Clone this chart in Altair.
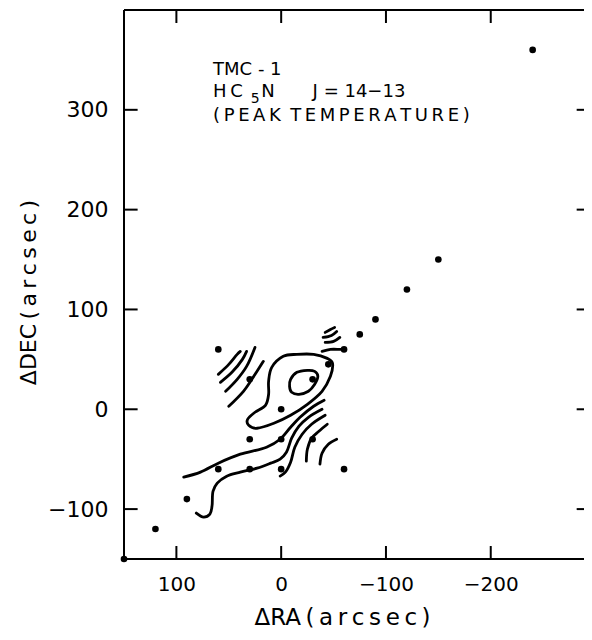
import altair as alt
import pandas as pd

# ---- observed grid points (arcsec offsets) ----
point_ra = [150, 120, 90, 60, 30, 0, -60, 30, 0, -30, 0, 30, -30, 60, -45, -60, -75, -90, -120, -150, -240]
point_dec = [-150, -120, -90, -60, -60, -60, -60, -30, -30, -30, 0, 30, 30, 60, 45, 60, 75, 90, 120, 150, 360]

# ---- closed contours ----
outer_ra = [-15, -31, -44, -49, -47, -39, -25, -9, 7, 23, 31, 32, 25, 15, 12, 12, 9, -2]
outer_dec = [55, 55, 51, 46, 33, 18, 5, -6, -14, -19, -16, -10, -3, 4, 15, 28, 42, 53]
inner_ra = [-9, -15, -25, -32, -35, -32, -26, -17, -10, -8]
inner_dec = [30, 37, 39, 38, 33, 25, 18, 15, 17, 23]

# ---- open contours ----
s1_ra, s1_dec = [60, 50, 42, 39], [35, 45, 55, 58]
s2_ra, s2_dec = [58, 47, 37, 33], [27, 37, 50, 58]
s3_ra, s3_dec = [53, 42, 33, 25], [18, 30, 43, 62]
s4_ra, s4_dec = [50, 36, 28, 17], [3, 18, 30, 48]
u1_ra, u1_dec = [-42, -47, -51], [77, 80, 82]
u2_ra, u2_dec = [-40, -48, -53], [72, 74, 78]
u3_ra, u3_dec = [-42, -50, -56], [67, 68, 72]
u4_ra, u4_dec = [-39, -47, -56, -60], [58, 60, 60, 60]
l1_ra = [93, 77, 60, 39, 14, 1, -9, -18, -31, -41]
l1_dec = [-68, -63, -54, -45, -38, -30, -18, -8, 3, 9]
l2_ra = [81, 74, 68, 66, 65, 61, 52, 39, 23, 10, 1, -5, -10, -17, -26, -39]
l2_dec = [-104, -108, -105, -97, -82, -74, -67, -63, -59, -54, -50, -43, -29, -17, -8, 0]
l3_ra, l3_dec = [1, -4, -9, -13, -20, -29, -42], [-67, -63, -53, -38, -25, -15, -6]
l4_ra, l4_dec = [-24, -25, -29, -36, -44], [-52, -40, -29, -22, -15]
l5_ra, l5_dec = [-37, -39, -45, -53], [-55, -44, -35, -30]

# ---- axes ----
x_ticks = [100, 0, -100, -200]
y_ticks = [-100, 0, 100, 200, 300]
ra_lim = [150, -300]
dec_lim = [-150, 400]
ra_edge = -289

# ---- annotation text ----
ann_text = ["TMC - 1", "H\u2009C", "5", "N", "J = 14\u221213",
            "(\u2009P\u2009E\u2009A\u2009K\u2009 T\u2009E\u2009M\u2009P\u2009E\u2009R\u2009A\u2009T\u2009U\u2009R\u2009E\u2009)"]
ann_ra = [65, 65, 29, 19, -30, 65]
ann_dec = [335, 313, 307, 313, 313, 289]
ann_size = [18, 18, 14, 18, 18, 18]

FONT = "DejaVu Sans"

def build(name, ras, decs):
    return [{"c": name, "o": i, "ra": r, "dec": d} for i, (r, d) in enumerate(zip(ras, decs))]

closed = pd.DataFrame(build("outer", outer_ra, outer_dec) + build("inner", inner_ra, inner_dec))
open_rows = []
for nm, r, d in [("s1", s1_ra, s1_dec), ("s2", s2_ra, s2_dec), ("s3", s3_ra, s3_dec),
                 ("s4", s4_ra, s4_dec), ("u1", u1_ra, u1_dec), ("u2", u2_ra, u2_dec),
                 ("u3", u3_ra, u3_dec), ("u4", u4_ra, u4_dec), ("l1", l1_ra, l1_dec),
                 ("l2", l2_ra, l2_dec), ("l3", l3_ra, l3_dec), ("l4", l4_ra, l4_dec),
                 ("l5", l5_ra, l5_dec)]:
    open_rows += build(nm, r, d)
opened = pd.DataFrame(open_rows)
points = pd.DataFrame({"ra": point_ra, "dec": point_dec})
ann = pd.DataFrame({"t": ann_text, "ra": ann_ra, "dec": ann_dec, "fs": ann_size})

tick_len_x = 13
tick_len_y = 13
seg = []
# frame (left, top, bottom)
seg.append({"ra": ra_lim[0], "ra2": ra_lim[0], "dec": dec_lim[0], "dec2": dec_lim[1]})
seg.append({"ra": ra_lim[0], "ra2": ra_lim[1], "dec": dec_lim[1], "dec2": dec_lim[1]})
seg.append({"ra": ra_lim[0], "ra2": ra_lim[1], "dec": dec_lim[0], "dec2": dec_lim[0]})
for v in x_ticks:
    seg.append({"ra": v, "ra2": v, "dec": dec_lim[0], "dec2": dec_lim[0] + tick_len_y})
    seg.append({"ra": v, "ra2": v, "dec": dec_lim[1], "dec2": dec_lim[1] - tick_len_y})
for v in y_ticks:
    seg.append({"ra": ra_lim[0], "ra2": ra_lim[0] - tick_len_x, "dec": v, "dec2": v})
    seg.append({"ra": ra_edge, "ra2": ra_edge + 7, "dec": v, "dec2": v})
segs = pd.DataFrame(seg)

xenc = alt.X("ra:Q",
             scale=alt.Scale(domain=[ra_edge, 150], reverse=True, nice=False, zero=False),
             axis=alt.Axis(values=x_ticks, domain=False, ticks=False, tickSize=0, grid=False,
                           labelFont=FONT, labelFontSize=20, labelColor="black", labelPadding=15,
                           title="\u0394RA\u2009(\u2009a\u2009r\u2009c\u2009s\u2009e\u2009c\u2009)",
                           titleFont=FONT, titleFontSize=23, titleFontWeight="normal",
                           titleColor="black", titleX=218, titleY=65,
                           titleBaseline="alphabetic", titleAlign="center"))
yenc = alt.Y("dec:Q",
             scale=alt.Scale(domain=[-150, 400], nice=False, zero=False),
             axis=alt.Axis(values=y_ticks, domain=False, ticks=False, tickSize=0, grid=False,
                           labelFont=FONT, labelFontSize=22, labelColor="black", labelPadding=16,
                           title="\u0394DEC\u2009(\u2009a\u2009r\u2009c\u2009s\u2009e\u2009c\u2009)",
                           titleFont=FONT, titleFontSize=22, titleFontWeight="normal",
                           titleColor="black", titleX=-96, titleY=282, titleAngle=270,
                           titleBaseline="middle", titleAlign="center"))

frame = alt.Chart(segs).mark_rule(color="black", strokeWidth=2, clip=False).encode(
    x=xenc, x2="ra2:Q", y=yenc, y2="dec2:Q")

closed_layer = alt.Chart(closed).mark_line(
    interpolate="cardinal-closed", color="black", strokeWidth=2.8).encode(
    x=xenc, y=yenc, detail="c:N", order="o:Q")

open_layer = alt.Chart(opened).mark_line(
    interpolate="catmull-rom", color="black", strokeWidth=2.8, strokeCap="round").encode(
    x=xenc, y=yenc, detail="c:N", order="o:Q")

pts = alt.Chart(points).mark_circle(color="black", opacity=1, size=44).encode(x=xenc, y=yenc)

texts = alt.Chart(ann).mark_text(align="left", baseline="alphabetic", font=FONT,
                                 color="black").encode(
    x=xenc, y=yenc, text="t:N", size=alt.Size("fs:Q", scale=None))

chart = alt.layer(frame, closed_layer, open_layer, pts, texts).properties(
    width=460, height=549,
    padding={"left": 116, "top": 2, "right": 0, "bottom": 71},
    autosize=alt.AutoSizeParams(type="none"),
    background="white",
).configure_view(stroke=None)

chart.save("out.html", embed_options={"renderer": "svg", "actions": False})
